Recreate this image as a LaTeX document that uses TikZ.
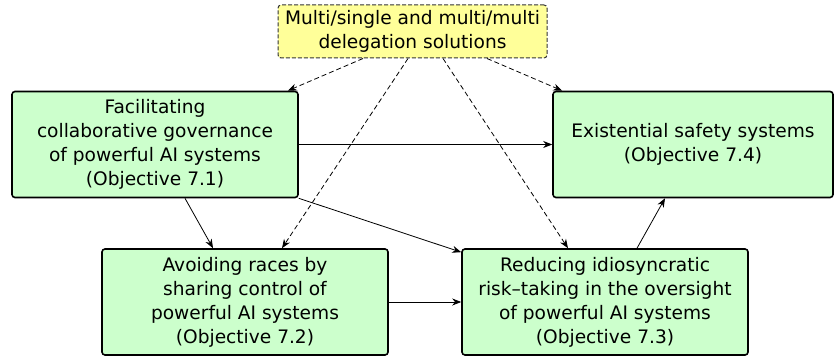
\documentclass[tikz,border=0pt]{standalone}
\usepackage{fontspec}
\setmainfont{DejaVu Sans}
\usetikzlibrary{arrows.meta, positioning}
\definecolor{mint}{RGB}{204, 255, 204}
\definecolor{lemon}{RGB}{255, 255, 153}

\begin{document}
\begin{tikzpicture}[
            x=1pt, y=1pt,
            objbox/.style={draw=black, line width=1.6pt, fill=mint, rounded corners=3pt, minimum width=286pt, minimum height=106pt, align=center, font=\fontsize{18.6}{24}\selectfont, inner sep=0pt},
            ideabox/.style={draw=black!80, line width=1pt, dash pattern=on 4pt off 2pt, fill=lemon, rounded corners=3pt, minimum width=269pt, minimum height=53pt, align=center, font=\fontsize{18.6}{24}\selectfont, inner sep=0pt},
            arrow/.style={-{Stealth[length=9pt, width=7pt]}, line width=0.8pt},
            hint/.style={arrow, dash pattern=on 5pt off 3pt}
        ]
            \useasboundingbox (0,0) rectangle (835,-358);

            \node[ideabox] (deleg) at (412.5,-31.5) {Multi/single and multi/multi\\delegation solutions};

            \node[objbox] (govern) at (155,-144.5) {Facilitating\\collaborative governance\\of powerful AI systems\\(Objective 7.1)};
            \node[objbox, minimum width=280pt] (exist) at (693,-144.5) {Existential safety systems\\(Objective 7.4)};
            \node[objbox] (races) at (245,-302) {Avoiding races by\\sharing control of\\powerful AI systems\\(Objective 7.2)};
            \node[objbox] (risk) at (605,-302) {Reducing idiosyncratic\\risk--taking in the oversight\\of powerful AI systems\\(Objective 7.3)};

            % delegation hints
            \draw[hint] ([xshift=-49.5pt]deleg.south) -- ([xshift=-11pt]govern.north east);
            \draw[hint] ([xshift=-4.5pt]deleg.south) -- ([xshift=37pt]races.north);
            \draw[hint] ([xshift=30.5pt]deleg.south) -- ([xshift=-37pt]risk.north);
            \draw[hint] ([xshift=74.5pt]deleg.south) -- ([xshift=10pt]exist.north west);

            % objective links
            \draw[arrow] (govern.east) -- (exist.west);
            \draw[arrow] ([xshift=30pt]govern.south) -- ([xshift=-32pt]races.north);
            \draw[arrow] (govern.south east) -- ([yshift=-4pt]risk.north west);
            \draw[arrow] (races.east) -- (risk.east -| risk.west);
            \draw[arrow] ([xshift=32pt]risk.north) -- ([xshift=-28pt]exist.south);
        \end{tikzpicture}
\end{document}
